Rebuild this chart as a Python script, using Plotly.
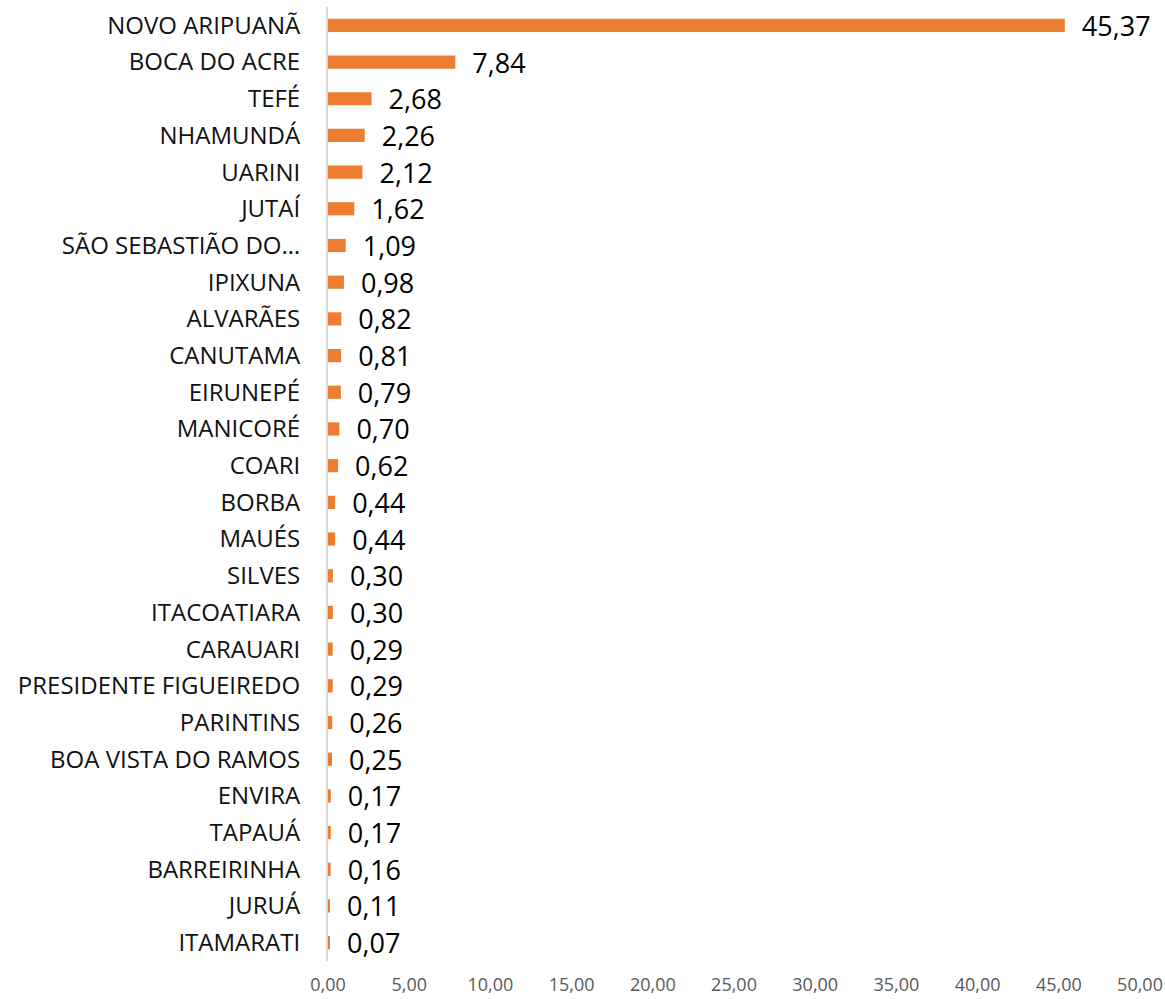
import plotly.graph_objects as go

categories = ["NOVO ARIPUANÃ", "BOCA DO ACRE", "TEFÉ", "NHAMUNDÁ", "UARINI", "JUTAÍ",
              "SÃO SEBASTIÃO DO…", "IPIXUNA", "ALVARÃES", "CANUTAMA", "EIRUNEPÉ",
              "MANICORÉ", "COARI", "BORBA", "MAUÉS", "SILVES", "ITACOATIARA", "CARAUARI",
              "PRESIDENTE FIGUEIREDO", "PARINTINS", "BOA VISTA DO RAMOS", "ENVIRA",
              "TAPAUÁ", "BARREIRINHA", "JURUÁ", "ITAMARATI"]
values = [45.37, 7.84, 2.68, 2.26, 2.12, 1.62, 1.09, 0.98, 0.82, 0.81, 0.79, 0.70,
          0.62, 0.44, 0.44, 0.30, 0.30, 0.29, 0.29, 0.26, 0.25, 0.17, 0.17, 0.16,
          0.11, 0.07]
labels = ["  " + f"{v:.2f}".replace(".", ",") for v in values]
x_ticks = [0, 5, 10, 15, 20, 25, 30, 35, 40, 45, 50]

FONT = "Open Sans, sans-serif"

fig = go.Figure(go.Bar(
    y=categories, x=values, orientation="h",
    marker=dict(color="#ED7D31", line=dict(width=0)),
    width=0.36,
    text=labels, textposition="outside", cliponaxis=False,
    constraintext="none",
    textfont=dict(family=FONT, size=27, color="#000000"),
))

fig.update_layout(
    width=1165, height=999,
    margin=dict(l=328, r=25, t=7, b=38, autoexpand=False),
    paper_bgcolor="white", plot_bgcolor="white",
    separators=", ",
    showlegend=False,
)
fig.update_xaxes(
    range=[0, 50], tickvals=x_ticks, tickformat=".2f",
    showgrid=False, zeroline=False, showline=False, automargin=False,
    tickfont=dict(family=FONT, size=18, color="#595959"),
    ticklabelstandoff=11,
)
fig.update_yaxes(
    autorange="reversed", categoryorder="array", categoryarray=categories,
    showgrid=False, zeroline=False, showline=True, linecolor="#D9D9D9", linewidth=2,
    automargin=False,
    tickfont=dict(family=FONT, size=24, color="#111111"),
    ticklabelstandoff=21,
)

fig.write_html("out.html", config={"displayModeBar": False},
               post_script="document.body.style.margin='0';")
